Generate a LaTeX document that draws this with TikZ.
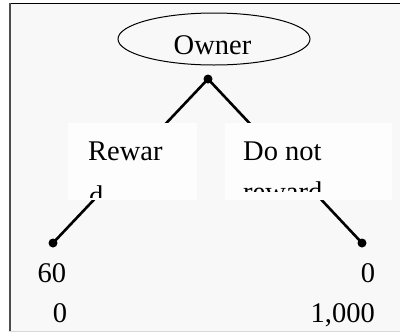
\documentclass[tikz,border=0pt]{standalone}
\usepackage{fontspec}
\setmainfont{Liberation Serif}
\usetikzlibrary{shapes.geometric}
\definecolor{bgc}{HTML}{F8F8F8}
\definecolor{boxc}{HTML}{FDFDFD}
\tikzset{
  txt/.style={inner sep=0pt, anchor=base, font=\fontsize{28.5}{34}\selectfont},
  txtw/.style={inner sep=0pt, anchor=base west, font=\fontsize{28.5}{34}\selectfont},
  dotnode/.style={circle, fill=black, inner sep=0pt, minimum size=9pt},
  branch/.style={line width=2.6pt},
  labbox/.style={fill=boxc, draw=none}
}
\begin{document}
\begin{tikzpicture}[x=1pt,y=-1pt]
\useasboundingbox (0,0) rectangle (400,333);
\fill[white] (0,0) rectangle (400,333);
\fill[bgc] (9,3) rectangle (400,331);
\draw[line width=1.5pt, black] (9,3.5) -- (400,3.5);
\draw[line width=2pt, black!70] (9.5,3) -- (9.5,331);
\draw[line width=0.8pt, black!15] (9,331) -- (400,331);
% root
\node[draw, ellipse, line width=1pt, minimum width=192pt, minimum height=52pt, inner sep=0pt] (owner) at (214,39) {};
\node[txt] (ownerlab) at (212.5,54) {Owner};
\node[dotnode] (root) at (208,79) {};
\node[dotnode] (leafL) at (53,243) {};
\node[dotnode] (leafR) at (362,243) {};
\draw[branch] (root.center) -- (leafL.center);
\draw[branch] (root.center) -- (leafR.center);
% label boxes
\fill[labbox] (68,123) rectangle (197,200);
\fill[labbox] (225,123) rectangle (392,200);
\begin{scope}
\clip (68,123) rectangle (197,197);
\node[txtw] (lab1) at (88,160) {Rewar};
\node[txtw] (lab1b) at (89,205) {d};
\end{scope}
\begin{scope}
\clip (225,123) rectangle (392,191);
\node[txtw] (lab2) at (243,160) {Do not};
\node[txtw] (lab2b) at (243,201) {reward};
\end{scope}
% payoffs
\node[txt] (pL1) at (52,282) {60};
\node[txt] (pL2) at (60,322) {0};
\node[txt] (pR1) at (368,282) {0};
\node[txt, anchor=base east] (pR2) at (375,322) {1,000};
\end{tikzpicture}
\end{document}
